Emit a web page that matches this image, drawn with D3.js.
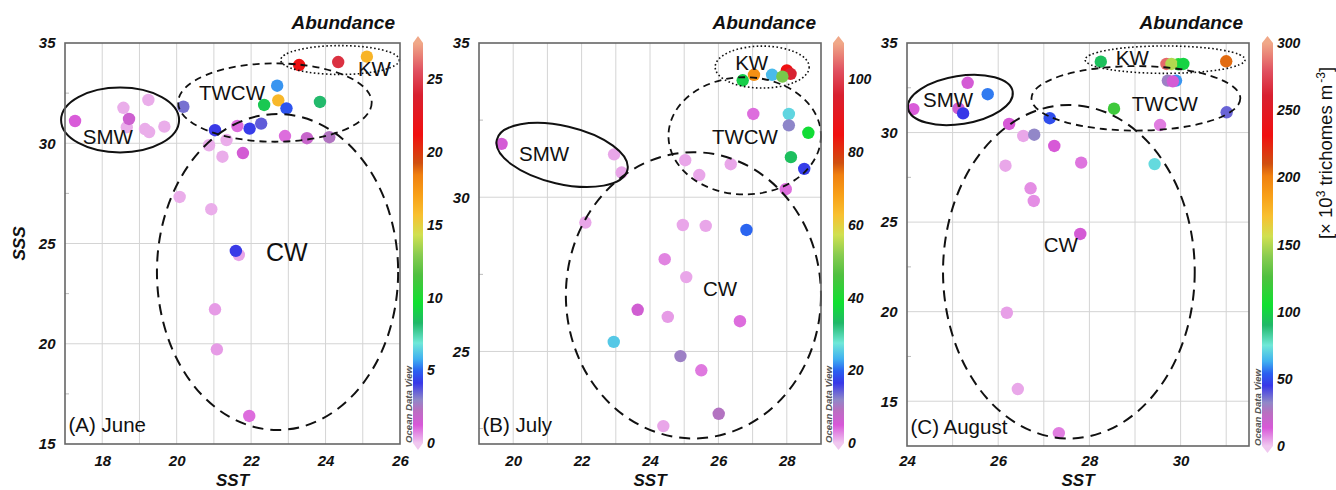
<!DOCTYPE html>
<html><head><meta charset="utf-8">
<script src="https://cdn.jsdelivr.net/npm/d3@7"></script>
<style>
body{margin:0;background:#fff;}
svg{display:block;font-family:"Liberation Sans",Arial,sans-serif;}
</style></head><body>
<svg id="chart" width="1336" height="490"></svg>
<script>
// ---------------- DATA ----------------
// (A) June
const juneSST = [17.27,18.57,19.24,18.66,18.72,19.15,19.26,19.67,20.18,21.03,20.87,21.34,21.23,21.63,21.96,22.27,21.78,22.35,22.70,22.73,22.95,22.91,23.50,24.10,23.85,23.29,24.34,25.11,20.08,20.93,21.67,21.59,21.03,21.08,21.95];
const juneSSS = [31.11,31.77,32.16,30.80,31.21,30.71,30.56,30.83,31.82,30.65,29.90,30.16,29.33,30.86,30.73,30.98,29.51,31.91,32.87,32.14,31.74,30.36,30.25,30.30,32.06,33.90,34.05,34.32,27.32,26.71,24.43,24.63,21.72,19.72,16.40];
const juneAbundance = [1.2,0.3,0.3,0.3,1.6,0.3,0.3,0.3,3.3,4.1,0.3,0.3,0.3,1.0,4.2,3.6,1.4,8.8,5.5,16.0,4.7,1.0,1.8,2.4,8.2,21.5,24.5,16.2,0.3,0.3,0.4,4.1,0.5,0.5,1.0];
const juneXDomain = [17, 26], juneYDomain = [15, 35], juneCbDomain = [0, 27.5];
const juneXTicks = [18, 20, 22, 24, 26];
const juneYTicks = [15, 20, 25, 30, 35];
const juneCbTicks = [0, 5, 10, 15, 20, 25];
const juneRegions = [
  {name:"SMW",  cx:18.48, cy:31.16, rx:1.585, ry:1.62, tilt:0, lx:17.48, ly:29.96},
  {name:"TWCW", cx:22.64, cy:32.03, rx:2.60,  ry:1.955, tilt:0, lx:20.60, ly:32.16},
  {name:"KW",   cx:24.39, cy:34.15, rx:1.593, ry:0.72, tilt:0, lx:24.87, ly:33.35},
  {name:"CW",   cx:22.71, cy:23.58, rx:3.24,  ry:7.88, tilt:0, lx:22.40, ly:24.13}
];
// (B) July
const julySST = [19.66,22.95,23.17,22.11,26.71,27.04,27.57,28.00,28.11,27.87,27.02,28.06,28.06,28.63,28.12,28.51,27.97,25.03,25.44,26.36,24.96,25.63,26.82,24.43,25.06,23.64,24.52,26.63,22.94,24.89,25.50,26.01,24.39];
const julySSS = [31.73,31.39,30.80,29.18,33.79,33.97,33.97,34.11,34.00,33.91,32.70,32.70,32.33,32.09,31.30,30.92,30.26,31.20,30.72,31.07,29.10,29.07,28.94,27.99,27.41,26.35,26.12,25.98,25.31,24.85,24.39,22.98,22.58];
const julyAbundance = [5.5,1.5,1.5,1.5,36,71,24,85,96,50,4,26,12,38,34,17,4,1.5,1.5,1.5,1.5,1.5,20,3,1.5,6,2,4,25,11,3.5,9.5,1.5];
const julyXDomain = [19, 29], julyYDomain = [22, 35], julyCbDomain = [0, 110];
const julyXTicks = [20, 22, 24, 26, 28];
const julyYTicks = [25, 30, 35];
const julyCbTicks = [0, 20, 40, 60, 80, 100];
const julyRegions = [
  {name:"SMW",  cx:21.43, cy:31.37, rx:1.96, ry:0.94, tilt:13, lx:20.17, ly:31.18},
  {name:"TWCW", cx:26.77, cy:31.99, rx:2.23, ry:1.90, tilt:0,  lx:25.81, ly:31.73},
  {name:"KW",   cx:27.28, cy:34.22, rx:1.374, ry:0.68, tilt:0, lx:26.49, ly:34.12},
  {name:"CW",   cx:25.27, cy:26.82, rx:3.73, ry:4.64, tilt:0,  lx:25.55, ly:26.80}
];
// (C) August
const augSST = [24.14,25.33,25.77,25.13,25.23,26.24,26.55,26.79,27.13,27.23,26.16,27.82,26.71,26.78,27.80,28.25,28.54,29.69,29.95,29.80,30.06,29.72,29.90,29.83,31.00,29.55,31.01,29.43,26.19,26.43,27.33];
const augSSS = [31.31,32.78,32.14,31.35,31.07,30.48,29.81,29.88,30.80,29.25,28.15,28.32,26.89,26.18,24.34,33.96,31.33,33.83,33.81,33.83,33.83,32.90,32.90,32.86,33.98,30.42,31.13,28.24,19.94,15.68,13.22];
const augAbundance = [13,15,57,17,45,14,4,32,50,14,4,10,7,7,15,93,120,285,110,150,100,30,60,15,205,9,38,72,5,4,9];
const augXDomain = [24, 31.5], augYDomain = [12.5, 35], augCbDomain = [0, 300];
const augXTicks = [24, 26, 28, 30];
const augYTicks = [15, 20, 25, 30, 35];
const augCbTicks = [0, 50, 100, 150, 200, 250, 300];
const augRegions = [
  {name:"SMW",  cx:25.17, cy:31.82, rx:1.162, ry:1.34, tilt:-9, lx:24.35, ly:31.43},
  {name:"TWCW", cx:29.02, cy:31.91, rx:2.29, ry:1.80, tilt:0,  lx:28.93, ly:31.20},
  {name:"KW",   cx:29.66, cy:34.07, rx:1.754, ry:0.765, tilt:0, lx:28.58, ly:33.77},
  {name:"CW",   cx:27.55, cy:22.23, rx:2.76, ry:9.31, tilt:0,  lx:27.00, ly:23.33}
];
const panelTitles = ["(A) June", "(B) July", "(C) August"];

// ODV-like colour map (fraction of colour bar -> colour)
const cmapStops  = [0, 0.045, 0.083, 0.108, 0.15, 0.18, 0.21, 0.25, 0.30, 0.35, 0.42, 0.47, 0.52, 0.57, 0.62, 0.67, 0.70, 0.77, 0.87, 0.93, 1.0];
const cmapColors = ["#f0c8f0","#d858d8","#b870c0","#9088c8","#3838e8","#2a60f0","#40b0f0","#70e8d8","#20b868","#10e030","#50c040","#88cc50","#d0e050","#f8c030","#f8a018","#f08010","#d05010","#f01010","#d82030","#e05060","#f0a888"];

// ---------------- LAYOUT ----------------
const panels = [
  {id:"june", sst:juneSST, sss:juneSSS, ab:juneAbundance, xDom:juneXDomain, yDom:juneYDomain, cbDom:juneCbDomain,
   xTicks:juneXTicks, yTicks:juneYTicks, cbTicks:juneCbTicks, regions:juneRegions, title:panelTitles[0],
   x0:65, x1:400, y0:43, y1:444, cbX:413, cbW:10, cbY1:443, abRight:395, cwSize:25, showSSS:true},
  {id:"july", sst:julySST, sss:julySSS, ab:julyAbundance, xDom:julyXDomain, yDom:julyYDomain, cbDom:julyCbDomain,
   xTicks:julyXTicks, yTicks:julyYTicks, cbTicks:julyCbTicks, regions:julyRegions, title:panelTitles[1],
   x0:479, x1:821, y0:43, y1:444, cbX:833, cbW:11, cbY1:443, abRight:816, cwSize:20.5, showSSS:false},
  {id:"aug", sst:augSST, sss:augSSS, ab:augAbundance, xDom:augXDomain, yDom:augYDomain, cbDom:augCbDomain,
   xTicks:augXTicks, yTicks:augYTicks, cbTicks:augCbTicks, regions:augRegions, title:panelTitles[2],
   x0:907, x1:1249, y0:43, y1:446, cbX:1262, cbW:11, cbY1:446, abRight:1243, cwSize:20.5, showSSS:false}
];

const svg = d3.select("#chart");
const cmap = d3.scaleLinear().domain(cmapStops).range(cmapColors).interpolate(d3.interpolateRgb).clamp(true);

const defs = svg.append("defs");
const grad = defs.append("linearGradient").attr("id","odv").attr("x1",0).attr("y1",1).attr("x2",0).attr("y2",0);
grad.selectAll("stop").data(cmapStops).join("stop")
  .attr("offset", d => d).attr("stop-color", (d,i) => cmapColors[i]);

const lineStyle = {
  SMW:  {dash:null,  w:2.0},
  TWCW: {dash:"7,5", w:1.8},
  KW:   {dash:"1.6,2.4", w:1.6},
  CW:   {dash:"11,7", w:2.0}
};

panels.forEach(p => {
  const x = d3.scaleLinear().domain(p.xDom).range([p.x0, p.x1]);
  const y = d3.scaleLinear().domain(p.yDom).range([p.y1, p.y0]);
  const c = d3.scaleLinear().domain(p.cbDom).range([0, 1]);
  const g = svg.append("g").attr("class", "panel-" + p.id);

  const vx = d3.range(Math.ceil(p.xDom[0]), Math.floor(p.xDom[1]) + 1).filter(v => v > p.xDom[0] && v < p.xDom[1]);
  g.append("g").selectAll("line").data(vx).join("line")
    .attr("x1", d => x(d)).attr("x2", d => x(d)).attr("y1", p.y0).attr("y2", p.y1)
    .attr("stroke", "#d4d4d4").attr("stroke-width", 1);
  const hy = p.yTicks.filter(v => v > p.yDom[0] && v < p.yDom[1]);
  g.append("g").selectAll("line").data(hy).join("line")
    .attr("x1", p.x0).attr("x2", p.x1).attr("y1", d => y(d)).attr("y2", d => y(d))
    .attr("stroke", "#d4d4d4").attr("stroke-width", 1);
  const minY = d3.range(Math.ceil(p.yDom[0] / 2.5) * 2.5, p.yDom[1], 2.5).filter(v => v % 5 !== 0 && v > p.yDom[0]);
  g.append("g").selectAll("line").data(minY).join("line")
    .attr("x1", p.x0).attr("x2", p.x0 + 4).attr("y1", d => y(d)).attr("y2", d => y(d))
    .attr("stroke", "#bbb").attr("stroke-width", 1);

  const pts = p.sst.map((s, i) => ({s, t: p.sss[i], a: p.ab[i]}));
  g.append("g").selectAll("circle").data(pts).join("circle")
    .attr("cx", d => x(d.s)).attr("cy", d => y(d.t)).attr("r", 6.2)
    .attr("fill", d => cmap(c(d.a)));

  g.append("g").selectAll("ellipse").data(p.regions).join("ellipse")
    .attr("cx", d => x(d.cx)).attr("cy", d => y(d.cy))
    .attr("rx", d => x(d.cx + d.rx) - x(d.cx)).attr("ry", d => y(d.cy) - y(d.cy + d.ry))
    .attr("transform", d => `rotate(${d.tilt},${x(d.cx)},${y(d.cy)})`)
    .attr("fill", "none").attr("stroke", "#111")
    .attr("stroke-width", d => lineStyle[d.name].w)
    .attr("stroke-dasharray", d => lineStyle[d.name].dash);

  g.append("g").selectAll("text").data(p.regions).join("text")
    .attr("x", d => x(d.lx)).attr("y", d => y(d.ly))
    .attr("font-size", d => d.name === "CW" ? p.cwSize : 20.5)
    .attr("fill", "#111").text(d => d.name);

  g.append("text").attr("x", p.x0 + 3.5).attr("y", p.y1 - 12.5)
    .attr("font-size", 20.5).attr("fill", "#111").text(p.title);

  g.append("rect").attr("x", p.x0).attr("y", p.y0).attr("width", p.x1 - p.x0).attr("height", p.y1 - p.y0)
    .attr("fill", "none").attr("stroke", "#666").attr("stroke-width", 1.6);

  const xa = g.append("g").attr("transform", `translate(0,${p.y1})`)
    .call(d3.axisBottom(x).tickValues(p.xTicks).tickSize(0).tickPadding(466 - p.y1 - 10.6).tickFormat(d3.format("d")));
  const ya = g.append("g").attr("transform", `translate(${p.x0},0)`)
    .call(d3.axisLeft(y).tickValues(p.yTicks).tickSize(0).tickPadding(9.5).tickFormat(d3.format("d")));
  [xa, ya].forEach(a => {
    a.select(".domain").remove();
    a.selectAll("text").attr("font-family", "'Liberation Sans',Arial,sans-serif")
      .attr("font-size", 15).attr("font-weight", "bold").attr("font-style", "italic").attr("fill", "#111");
  });
  g.append("text").attr("x", (p.x0 + p.x1) / 2).attr("y", 486).attr("text-anchor", "middle")
    .attr("font-size", 17).attr("font-weight", "bold").attr("font-style", "italic").attr("fill", "#111").text("SST");
  if (p.showSSS) {
    g.append("text").attr("transform", `translate(25,${(p.y0 + p.y1) / 2}) rotate(-90)`).attr("text-anchor", "middle")
      .attr("font-size", 17).attr("font-weight", "bold").attr("font-style", "italic").attr("fill", "#111").text("SSS");
  }

  const cy0 = p.y0, cy1 = p.cbY1;
  const cs = d3.scaleLinear().domain(p.cbDom).range([cy1, cy0]);
  g.append("rect").attr("x", p.cbX).attr("y", cy0).attr("width", p.cbW).attr("height", cy1 - cy0).attr("fill", "url(#odv)");
  g.append("path").attr("d", `M${p.cbX},${cy0}L${p.cbX + p.cbW},${cy0}L${p.cbX + p.cbW / 2},${cy0 - 7}Z`).attr("fill", cmapColors[cmapColors.length - 1]);
  g.append("path").attr("d", `M${p.cbX},${cy1}L${p.cbX + p.cbW},${cy1}L${p.cbX + p.cbW / 2},${cy1 + 7}Z`).attr("fill", cmapColors[0]);
  g.append("g").selectAll("text").data(p.cbTicks).join("text")
    .attr("x", p.cbX + p.cbW + 4).attr("y", d => cs(d)).attr("dy", "0.36em")
    .attr("font-size", 14).attr("font-weight", "bold").attr("font-style", "italic").attr("fill", "#111")
    .text(d => d);
  g.append("text").attr("transform", `translate(${p.cbX - 1},${cy1}) rotate(-90)`)
    .attr("font-size", 9.6).attr("font-weight", "bold").attr("font-style", "italic").attr("fill", "#555")
    .text("Ocean Data View");
  g.append("text").attr("x", p.abRight).attr("y", 29).attr("text-anchor", "end")
    .attr("font-size", 19).attr("font-weight", "bold").attr("font-style", "italic").attr("fill", "#111")
    .text("Abundance");
});

const unit = svg.append("text").attr("transform", "translate(1332,153) rotate(-90)")
  .attr("text-anchor", "middle").attr("font-size", 18.5).attr("fill", "#111");
unit.append("tspan").text("[× 10");
unit.append("tspan").attr("baseline-shift", "super").attr("font-size", 12).text("3");
unit.append("tspan").text(" trichomes m");
unit.append("tspan").attr("baseline-shift", "super").attr("font-size", 12).attr("dx", 2).text("-3");
unit.append("tspan").text("]");
</script>
</body></html>
